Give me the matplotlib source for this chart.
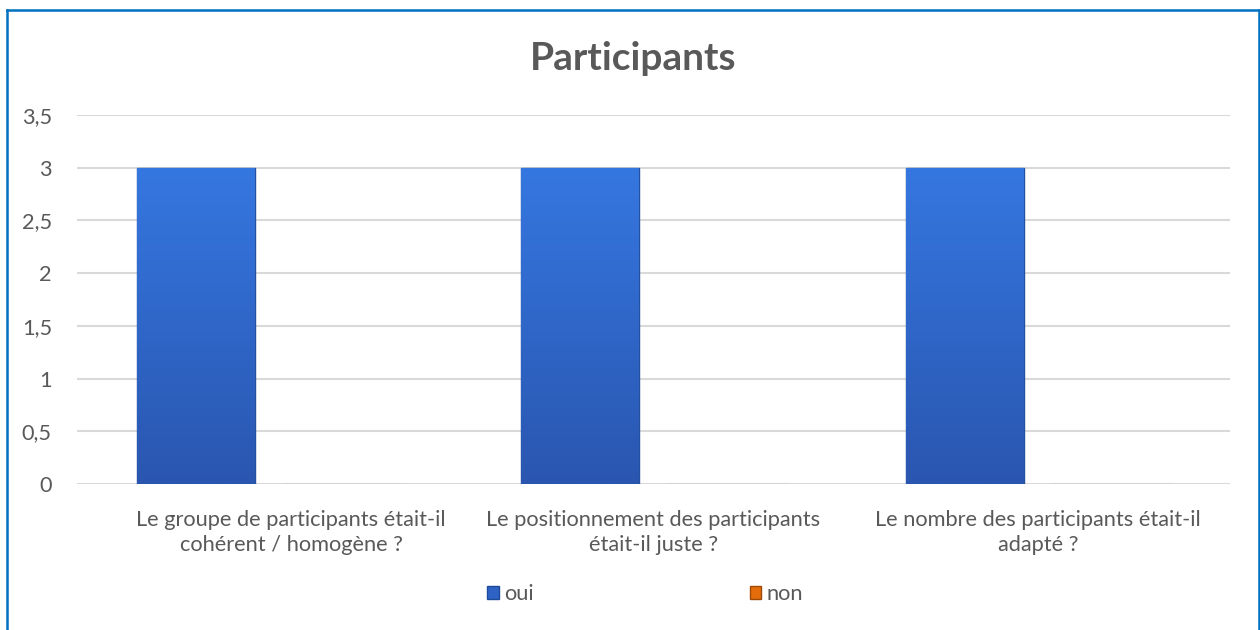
import matplotlib
matplotlib.use("Agg")
import matplotlib.pyplot as plt
import matplotlib.transforms as mtrans
import numpy as np
from matplotlib.colors import LinearSegmentedColormap
from matplotlib.patches import Patch
from matplotlib.lines import Line2D

categories = ["Le groupe de participants était-il\ncohérent / homogène ?",
              "Le positionnement des participants\nétait-il juste ?",
              "Le nombre des participants était-il\nadapté ?"]
oui = [3, 3, 3]
non = [0, 0, 0]
yticks = [0, 0.5, 1, 1.5, 2, 2.5, 3, 3.5]
ytick_labels = ["0", "0,5", "1", "1,5", "2", "2,5", "3", "3,5"]
title = "Participants"

plt.rcParams['font.family'] = ['Lato', 'DejaVu Sans']
TXT = "#595959"
FS = 15.7

fig = plt.figure(figsize=(12.6, 6.3), dpi=100)
ax = fig.add_axes([77/1260, 1-484/630, (1230-77)/1260, (484-115)/630])

x = np.arange(len(categories))
w = 0.307
off = 0.19
bars_oui = ax.bar(x - off, oui, w, color="#3068CC", edgecolor="#2450A0", linewidth=1.0, zorder=3)
bars_non = ax.bar(x + off, non, w, color="#E46C0A", edgecolor="#B0520A", linewidth=0.8, zorder=3)

cmap = LinearSegmentedColormap.from_list("b", ["#2A56B0", "#3577E0"])
grad = np.linspace(0, 1, 256).reshape(-1, 1)
for p in bars_oui:
    x0, y0 = p.get_x(), p.get_y()
    x1, y1 = x0 + p.get_width(), y0 + p.get_height()
    if y1 - y0 <= 0:
        continue
    im = ax.imshow(grad, extent=[x0, x1, y0, y1], origin="lower", aspect="auto",
                   cmap=cmap, zorder=3.5)
    im.set_clip_path(p)

ax.set_xlim(-0.5, len(categories) - 0.5)
ax.set_ylim(0, 3.5)
ax.set_yticks(yticks)
ax.set_yticklabels(ytick_labels)
ax.set_xticks(x)
ax.set_xticklabels(categories, linespacing=1.3)
ax.tick_params(axis='both', length=0, labelsize=FS, colors=TXT)
ax.tick_params(axis='x', pad=19)
ax.tick_params(axis='y', pad=18)
ax.yaxis.grid(True, color="#D9D9D9", linewidth=1.5, zorder=0)
ax.set_axisbelow(True)
for s in ax.spines.values():
    s.set_visible(False)

# first category label sits slightly right of centre in the reference
lab0 = ax.get_xticklabels()[0]
lab0.set_transform(lab0.get_transform() + mtrans.ScaledTranslation(0.22, 0, fig.dpi_scale_trans))

fig.text(633/1260, 1-58/630, title, ha="center", va="center", fontsize=28,
         fontweight="bold", color=TXT)

handles = [Patch(facecolor="#2E62C4", edgecolor="#1F4A9A"),
           Patch(facecolor="#E46C0A", edgecolor="#A04A08")]
fig.legend(handles, ["oui", "non"], loc="center", bbox_to_anchor=(645/1260, 1-594/630),
           ncol=2, frameon=False, fontsize=FS, labelcolor=TXT, handlelength=0.55,
           handleheight=0.55, handletextpad=0.25, columnspacing=9.9)

# outer border (top, left, right)
bc = "#0070C0"
fig.add_artist(Line2D([6.5/1260, 6.5/1260], [0, 1-9.5/630], color=bc, linewidth=1.8,
                      transform=fig.transFigure))
fig.add_artist(Line2D([1258.5/1260, 1258.5/1260], [0, 1-9.5/630], color=bc, linewidth=1.8,
                      transform=fig.transFigure))
fig.add_artist(Line2D([6.5/1260, 1258.5/1260], [1-9.5/630, 1-9.5/630], color=bc, linewidth=1.8,
                      transform=fig.transFigure))

fig.savefig("out.png", dpi=100)
